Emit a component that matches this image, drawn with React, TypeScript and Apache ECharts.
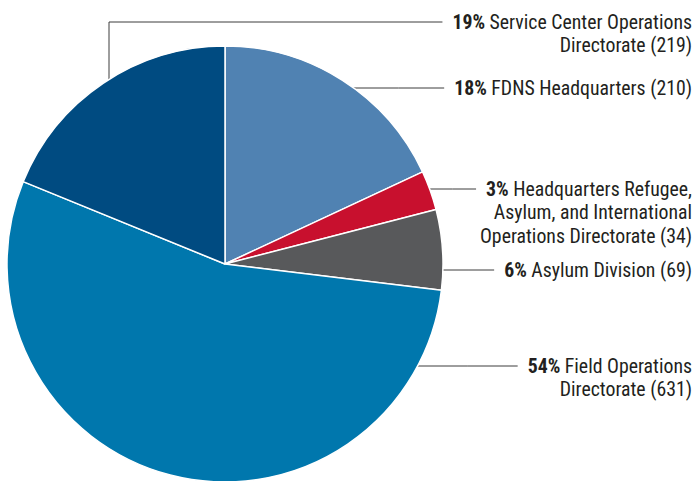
import React, { useEffect, useRef } from 'react';
import * as echarts from 'echarts';

// ---- data ----
const categories = [
  'FDNS Headquarters',
  'Headquarters Refugee,\nAsylum, and International\nOperations Directorate',
  'Asylum Division',
  'Field Operations\nDirectorate',
  'Service Center Operations\nDirectorate',
];
const counts = [210, 34, 69, 631, 219];
const colors = ['#5082b2', '#c8102e', '#58595b', '#0077ad', '#004b81'];

// ---- layout ----
const CX = 225;
const CY = 264;
const R = 218;
const LABEL_RIGHT = 692;
const LINE_H = 23.5;
const FONT_SIZE = 19.8;
const FONT = '"Liberation Sans Narrow", "Roboto Condensed", "Liberation Sans", Arial, sans-serif';
const TEXT_COLOR = '#231f20';
const labelFirstLineY = [88, 189, 270, 366, 22];
const elbowX: (number | null)[] = [null, null, null, null, 109];

const total = counts.reduce((a, b) => a + b, 0);
const pctOf = (v: number) => Math.round((v / total) * 100);

let ctx: CanvasRenderingContext2D | null = null;
function measure(text: string, bold: boolean) {
  if (!ctx) ctx = document.createElement('canvas').getContext('2d');
  if (!ctx) return text.length * FONT_SIZE * 0.45;
  ctx.font = `${bold ? 'bold ' : ''}${FONT_SIZE}px ${FONT}`;
  return ctx.measureText(text).width;
}

function firstLineWidth(i: number) {
  const pct = `${pctOf(counts[i])}%`;
  const lines = (categories[i] + ` (${counts[i]})`).split('\n');
  return measure(pct, true) + measure(' ' + lines[0], false);
}

export default function App() {
  const ref = useRef<HTMLDivElement>(null);
  useEffect(() => {
    if (!ref.current) return;
    const chart = echarts.init(ref.current, undefined, { renderer: 'svg' });
    chart.setOption({
      animation: false,
      backgroundColor: '#ffffff',
      series: [
        {
          type: 'pie',
          center: [CX, CY],
          radius: R,
          startAngle: 90,
          clockwise: true,
          avoidLabelOverlap: false,
          silent: true,
          emphasis: { disabled: true },
          itemStyle: { borderColor: '#ffffff', borderWidth: 1.5 },
          data: categories.map((name, i) => ({
            name,
            value: counts[i],
            itemStyle: { color: colors[i] },
          })),
          label: {
            show: true,
            position: 'outside',
            align: 'right',
            fontFamily: FONT,
            fontSize: FONT_SIZE,
            color: TEXT_COLOR,
            lineHeight: LINE_H,
            formatter: (p: any) => {
              const lines = (p.name + ` (${p.value})`).split('\n');
              return lines
                .map((ln: string, k: number) =>
                  k === 0 ? `{b|${pctOf(p.value)}%}{n| ${ln}}` : `{n|${ln}}`
                )
                .join('\n');
            },
            rich: {
              b: {
                fontFamily: FONT,
                fontSize: FONT_SIZE,
                fontWeight: 'bold',
                color: TEXT_COLOR,
                lineHeight: LINE_H,
                align: 'right',
              },
              n: {
                fontFamily: FONT,
                fontSize: FONT_SIZE,
                color: TEXT_COLOR,
                lineHeight: LINE_H,
                align: 'right',
              },
            },
          },
          labelLine: {
            show: true,
            lineStyle: { color: '#3c3c3c', width: 1 },
          },
          labelLayout: (p: any) => {
            const i = p.dataIndex;
            const y = labelFirstLineY[i];
            const endX = LABEL_RIGHT - firstLineWidth(i) - 10;
            let pts: number[][];
            const ex = elbowX[i];
            if (ex != null) {
              const ey = CY - Math.sqrt(R * R - (ex - CX) * (ex - CX));
              pts = [
                [ex, ey],
                [ex, y],
                [endX, y],
              ];
            } else {
              const sx = CX + Math.sqrt(R * R - (y - CY) * (y - CY)) - 1;
              pts = [
                [sx, y],
                [(sx + endX) / 2, y],
                [endX, y],
              ];
            }
            return {
              x: LABEL_RIGHT,
              y: y - LINE_H / 2,
              align: 'right',
              verticalAlign: 'top',
              labelLinePoints: pts,
            };
          },
        },
      ],
    });
    return () => chart.dispose();
  }, []);
  return (
    <div
      ref={ref}
      style={{ position: 'fixed', left: 0, top: 0, width: 697, height: 481 }}
    />
  );
}
